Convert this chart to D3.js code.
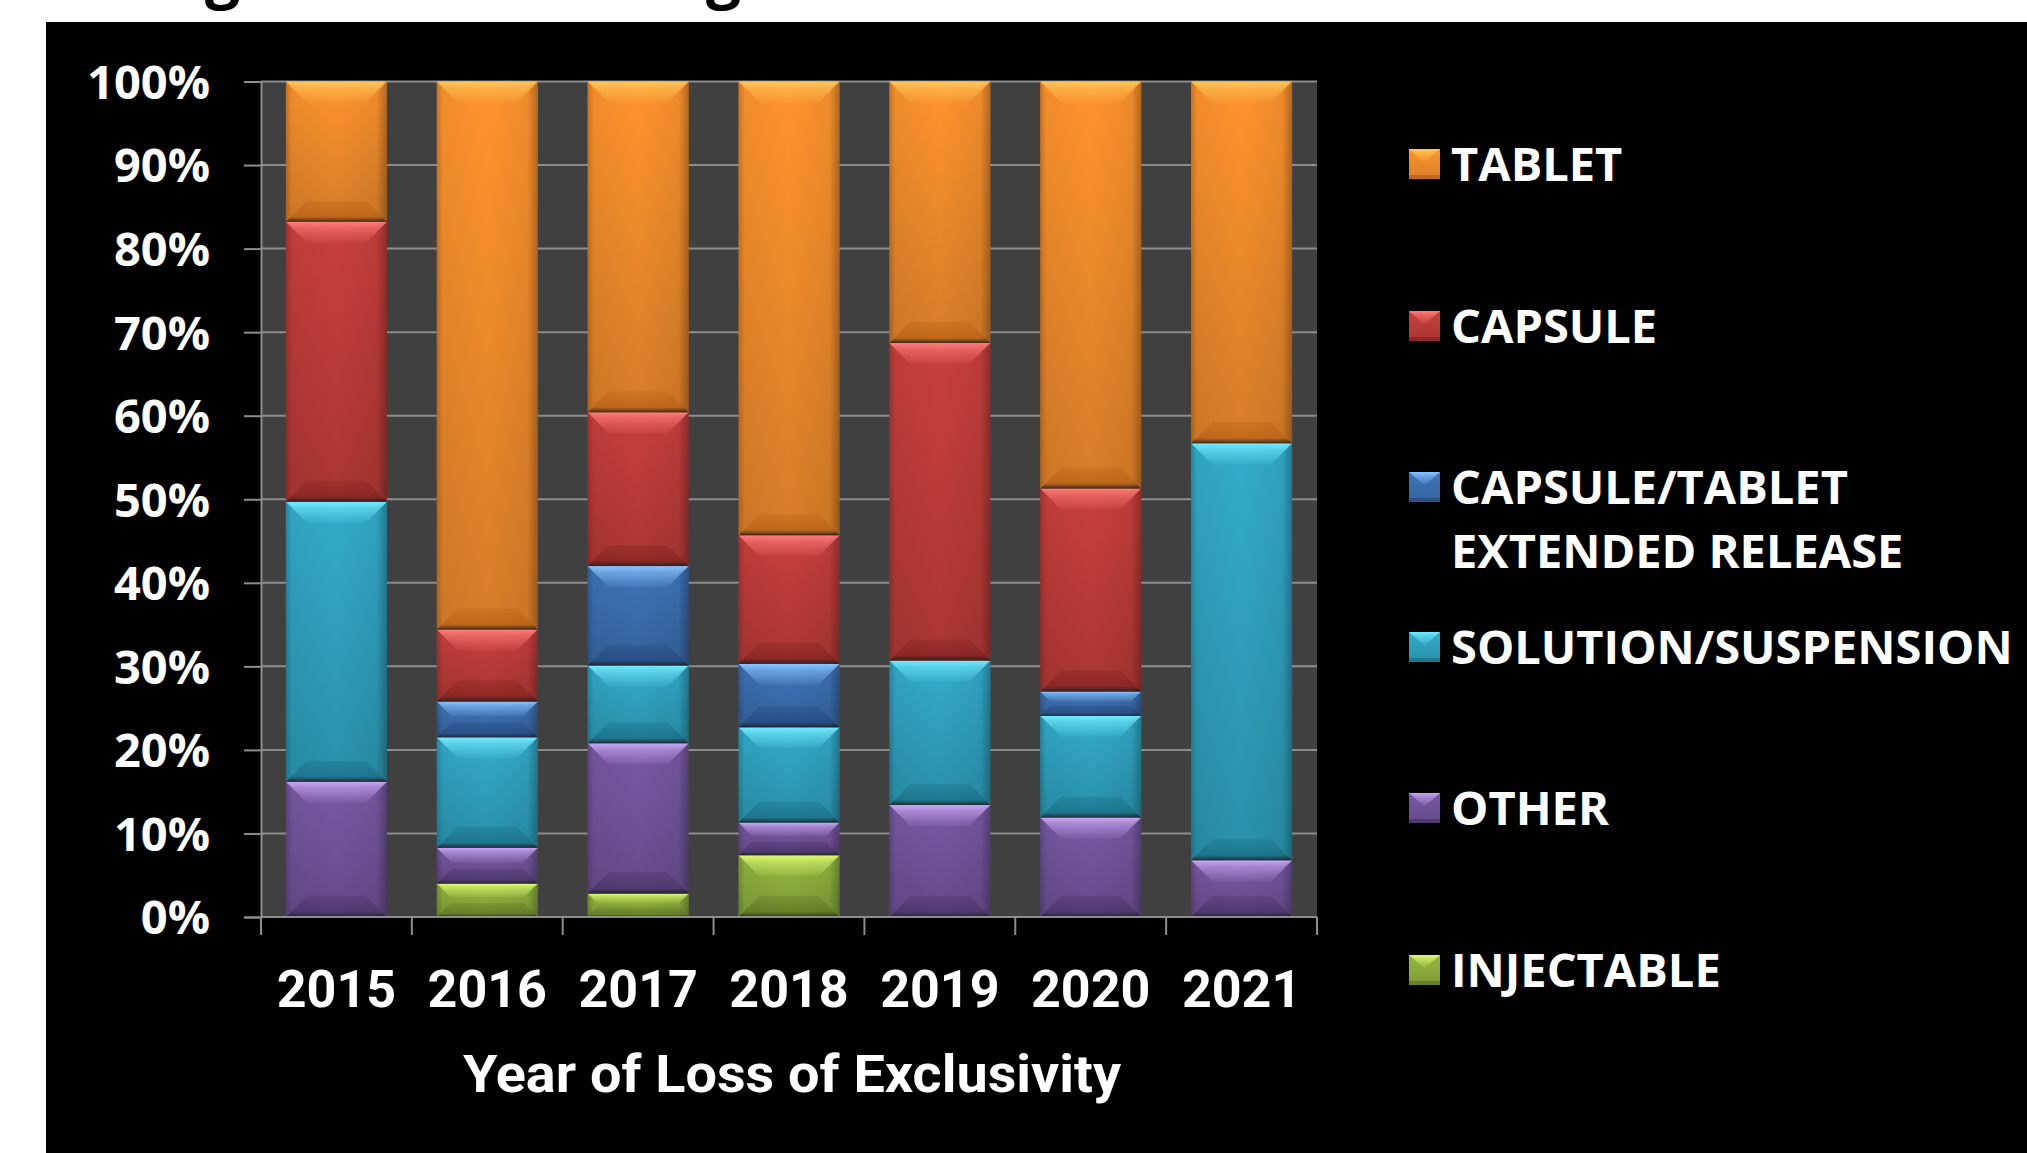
<!DOCTYPE html>
<html>
<head>
<meta charset="utf-8">
<script src="https://cdn.jsdelivr.net/npm/d3@7"></script>
<style>
  html, body { margin: 0; padding: 0; background: #ffffff; }
  svg { display: block; }
</style>
</head>
<body>
<script>
// Share of products losing exclusivity, by dosage form (percent of each year)
const years = ["2015", "2016", "2017", "2018", "2019", "2020", "2021"];
const seriesNames = ["TABLET", "CAPSULE", "CAPSULE/TABLET EXTENDED RELEASE", "SOLUTION/SUSPENSION", "OTHER", "INJECTABLE"];
const tablet          = [16.8, 65.6, 39.6, 54.3, 31.3, 48.7, 43.3];
const capsule         = [33.5,  8.6, 18.4, 15.4, 38.0, 24.3,  0.0];
const capsuleTabletER = [ 0.0,  4.3, 11.9,  7.6,  0.0,  2.9,  0.0];
const solution        = [33.5, 13.2,  9.3, 11.4, 17.3, 12.2, 49.9];
const other           = [16.2,  4.3, 18.0,  3.9, 13.4, 11.9,  6.8];
const injectable      = [ 0.0,  4.0,  2.8,  7.4,  0.0,  0.0,  0.0];
const yTicks = [0, 10, 20, 30, 40, 50, 60, 70, 80, 90, 100];
const xTitle = "Year of Loss of Exclusivity";

// bottom-to-top stacking order
const stackKeys = ["INJECTABLE", "OTHER", "SOLUTION/SUSPENSION", "CAPSULE/TABLET EXTENDED RELEASE", "CAPSULE", "TABLET"];
const valuesByKey = {
  "TABLET": tablet,
  "CAPSULE": capsule,
  "CAPSULE/TABLET EXTENDED RELEASE": capsuleTabletER,
  "SOLUTION/SUSPENSION": solution,
  "OTHER": other,
  "INJECTABLE": injectable
};
const rows = years.map((yr, i) => {
  const r = { year: yr };
  stackKeys.forEach(k => r[k] = valuesByKey[k][i]);
  return r;
});

// light / base / dark tones per series for the bevelled look
const palette = {
  "TABLET":                          { light: "#ffc85a", base: "#f28c2c", dark: "#b35c14" },
  "CAPSULE":                         { light: "#ff7c7a", base: "#bf3d3a", dark: "#7a1f1d" },
  "CAPSULE/TABLET EXTENDED RELEASE": { light: "#8cc4ff", base: "#3c6fb1", dark: "#21447a" },
  "SOLUTION/SUSPENSION":             { light: "#74ecff", base: "#30a3c1", dark: "#17677d" },
  "OTHER":                           { light: "#caa6f2", base: "#72559c", dark: "#422d5e" },
  "INJECTABLE":                      { light: "#dcfa74", base: "#8caf3d", dark: "#56711e" }
};

const W = 2027, H = 1153;
const plot = { left: 261, right: 1317, top: 81.5, bottom: 917 };

const svg = d3.select("body").append("svg")
  .attr("width", W).attr("height", H)
  .attr("viewBox", `0 0 ${W} ${H}`);

// slide heading, mostly above the visible area
svg.append("text")
  .attr("y", -4)
  .attr("font-family", "'Open Sans', sans-serif")
  .attr("font-weight", 700)
  .attr("font-size", 62)
  .attr("fill", "#000")
  .call(t => {
    t.append("tspan").attr("x", 205).text("g");
    t.append("tspan").attr("x", 706).text("g");
  });

// black chart panel
svg.append("rect")
  .attr("x", 46).attr("y", 22)
  .attr("width", W - 46).attr("height", H - 22)
  .attr("fill", "#000");

const defs = svg.append("defs");
stackKeys.forEach((k, i) => {
  const c = palette[k];
  const body = defs.append("linearGradient").attr("id", `body${i}`)
    .attr("x1", 0).attr("y1", 0).attr("x2", 0).attr("y2", 1);
  body.append("stop").attr("offset", "0%").attr("stop-color", d3.color(c.base).brighter(0.15));
  body.append("stop").attr("offset", "100%").attr("stop-color", d3.color(c.base).darker(0.35));

  const top = defs.append("linearGradient").attr("id", `top${i}`)
    .attr("x1", 0).attr("y1", 0).attr("x2", 0).attr("y2", 1);
  top.append("stop").attr("offset", "0%").attr("stop-color", c.light).attr("stop-opacity", 1);
  top.append("stop").attr("offset", "30%").attr("stop-color", c.light).attr("stop-opacity", 0.6);
  top.append("stop").attr("offset", "100%").attr("stop-color", c.light).attr("stop-opacity", 0.08);

  const bot = defs.append("linearGradient").attr("id", `bot${i}`)
    .attr("x1", 0).attr("y1", 0).attr("x2", 0).attr("y2", 1);
  bot.append("stop").attr("offset", "0%").attr("stop-color", c.dark).attr("stop-opacity", 0.25);
  bot.append("stop").attr("offset", "75%").attr("stop-color", c.dark).attr("stop-opacity", 0.6);
  bot.append("stop").attr("offset", "100%").attr("stop-color", "#1a1a1a").attr("stop-opacity", 0.85);
});
// darker edge shading on the sides of every block
const side = defs.append("linearGradient").attr("id", "sides")
  .attr("x1", 0).attr("y1", 0).attr("x2", 1).attr("y2", 0);
side.append("stop").attr("offset", "0%").attr("stop-color", "#000").attr("stop-opacity", 0.22);
side.append("stop").attr("offset", "6%").attr("stop-color", "#000").attr("stop-opacity", 0.05);
side.append("stop").attr("offset", "50%").attr("stop-color", "#000").attr("stop-opacity", 0);
side.append("stop").attr("offset", "90%").attr("stop-color", "#000").attr("stop-opacity", 0.06);
side.append("stop").attr("offset", "100%").attr("stop-color", "#000").attr("stop-opacity", 0.3);

const x = d3.scaleBand()
  .domain(years)
  .range([plot.left, plot.right])
  .paddingInner(0.33)
  .paddingOuter(0.165);

const y = d3.scaleLinear()
  .domain([0, 100])
  .range([plot.bottom, plot.top]);

// plot background
svg.append("rect")
  .attr("x", plot.left).attr("y", plot.top)
  .attr("width", plot.right - plot.left).attr("height", plot.bottom - plot.top)
  .attr("fill", "#404040");

// horizontal gridlines
svg.append("g")
  .selectAll("line")
  .data(yTicks)
  .join("line")
  .attr("x1", plot.left).attr("x2", plot.right)
  .attr("y1", d => y(d)).attr("y2", d => y(d))
  .attr("stroke", "#8d8d8d").attr("stroke-width", 2);

// y axis with outward ticks
const yAxis = svg.append("g")
  .attr("transform", `translate(${plot.left},0)`)
  .call(d3.axisLeft(y).tickValues(yTicks).tickSize(17).tickPadding(34).tickFormat(d => d + "%"));
yAxis.select(".domain").attr("stroke", "#8d8d8d").attr("stroke-width", 2);
yAxis.selectAll(".tick line").attr("stroke", "#8d8d8d").attr("stroke-width", 2);
yAxis.selectAll(".tick text")
  .attr("fill", "#fff")
  .attr("font-family", "'Open Sans', sans-serif")
  .attr("font-weight", 700)
  .attr("font-size", 47)
  .attr("dy", "0.36em");

// stacked bars
const stacked = d3.stack().keys(stackKeys)(rows);
const bw = x.bandwidth();

function bevelBlock(g, x0, y0, w, h, i) {
  const x1 = x0 + w, y1 = y0 + h;
  const b = Math.min(21, h * 0.42);
  g.append("rect").attr("x", x0).attr("y", y0).attr("width", w).attr("height", h)
    .attr("fill", `url(#body${i})`);
  g.append("rect").attr("x", x0).attr("y", y0).attr("width", w).attr("height", h)
    .attr("fill", "url(#sides)");
  g.append("polygon")
    .attr("points", [[x0, y0], [x1, y0], [x1 - b, y0 + b], [x0 + b, y0 + b]].map(p => p.join(",")).join(" "))
    .attr("fill", `url(#top${i})`);
  g.append("polygon")
    .attr("points", [[x0 + b, y1 - b], [x1 - b, y1 - b], [x1, y1], [x0, y1]].map(p => p.join(",")).join(" "))
    .attr("fill", `url(#bot${i})`);
}

const barLayer = svg.append("g");
stacked.forEach((layer, i) => {
  layer.forEach(d => {
    const top = y(d[1]), bottom = y(d[0]);
    const h = bottom - top;
    if (h <= 0.5) return;
    bevelBlock(barLayer.append("g"), x(d.data.year), top, bw, h, i);
  });
});

// x axis line with ticks at category boundaries
const boundaries = years.map(yr => x(yr) - (x.step() - bw) / 2).concat([plot.right]);
svg.append("line")
  .attr("x1", plot.left).attr("x2", plot.right)
  .attr("y1", plot.bottom).attr("y2", plot.bottom)
  .attr("stroke", "#8d8d8d").attr("stroke-width", 2);
svg.append("g").selectAll("line")
  .data(boundaries)
  .join("line")
  .attr("x1", d => d).attr("x2", d => d)
  .attr("y1", plot.bottom).attr("y2", plot.bottom + 18)
  .attr("stroke", "#8d8d8d").attr("stroke-width", 2);

// year labels
svg.append("g").selectAll("text")
  .data(years)
  .join("text")
  .attr("x", d => x(d) + bw / 2)
  .attr("y", 1007)
  .attr("text-anchor", "middle")
  .attr("fill", "#fff")
  .attr("font-family", "Roboto, sans-serif")
  .attr("font-weight", 700)
  .attr("font-size", 52)
  .text(d => d);

// axis title
svg.append("text")
  .attr("x", 792).attr("y", 1092)
  .attr("text-anchor", "middle")
  .attr("fill", "#fff")
  .attr("font-family", "Roboto, sans-serif")
  .attr("font-weight", 700)
  .attr("font-size", 51)
  .attr("textLength", 658)
  .attr("lengthAdjust", "spacingAndGlyphs")
  .text(xTitle);

// legend
const legendRows = [
  { key: "TABLET", lines: ["TABLET"], cy: 164 },
  { key: "CAPSULE", lines: ["CAPSULE"], cy: 326 },
  { key: "CAPSULE/TABLET EXTENDED RELEASE", lines: ["CAPSULE/TABLET", "EXTENDED RELEASE"], cy: 487 },
  { key: "SOLUTION/SUSPENSION", lines: ["SOLUTION/SUSPENSION"], cy: 647 },
  { key: "OTHER", lines: ["OTHER"], cy: 808 },
  { key: "INJECTABLE", lines: ["INJECTABLE"], cy: 970 }
];
const legend = svg.append("g");
legendRows.forEach(r => {
  const i = stackKeys.indexOf(r.key);
  const g = legend.append("g");
  const s = 30;
  const gx = 1409, gy = r.cy - s / 2;
  g.append("rect").attr("x", gx).attr("y", gy).attr("width", s + 1).attr("height", s)
    .attr("fill", `url(#body${i})`);
  g.append("polygon")
    .attr("points", [[gx, gy], [gx + s + 1, gy], [gx + (s + 1) / 2, gy + s * 0.45]].map(p => p.join(",")).join(" "))
    .attr("fill", `url(#top${i})`);
  g.append("rect").attr("x", gx).attr("y", gy + s - 4).attr("width", s + 1).attr("height", 4)
    .attr("fill", palette[r.key].dark).attr("opacity", 0.6);
  const t = g.append("text")
    .attr("fill", "#fff")
    .attr("font-family", "'Open Sans', sans-serif")
    .attr("font-weight", 700)
    .attr("font-size", 47);
  r.lines.forEach((ln, j) => {
    t.append("tspan")
      .attr("x", 1451)
      .attr("y", r.cy + j * 64)
      .attr("dy", "0.36em")
      .text(ln);
  });
});
</script>
</body>
</html>
